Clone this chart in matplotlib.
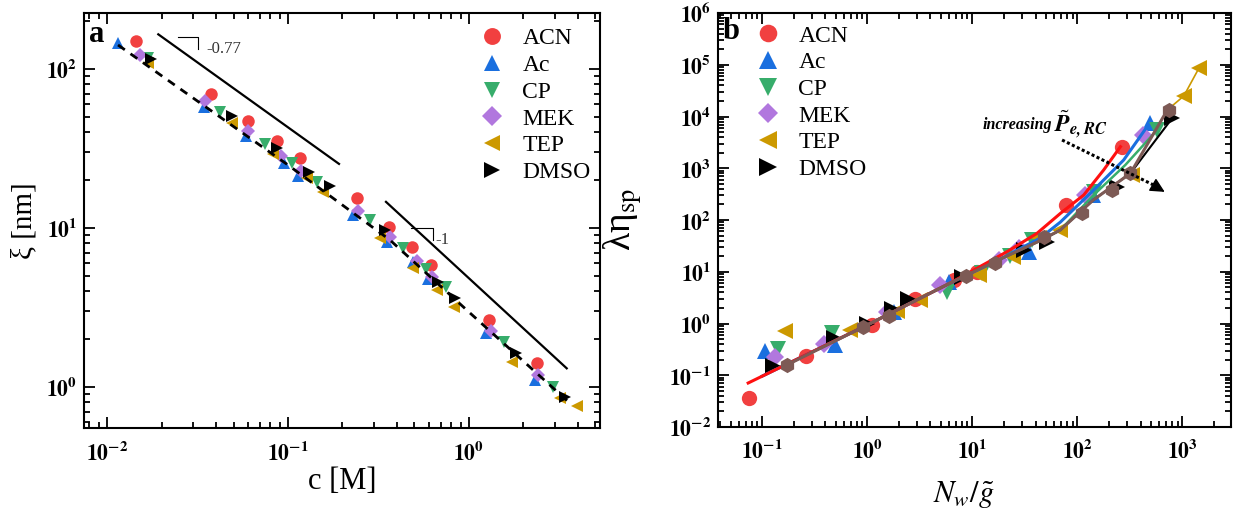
import numpy as np
import matplotlib
matplotlib.use('Agg')
import matplotlib.pyplot as plt
from matplotlib.ticker import LogLocator, FuncFormatter, NullFormatter

plt.rcParams['font.family'] = ['Liberation Serif', 'DejaVu Serif']
plt.rcParams['mathtext.fontset'] = 'stix'

solvents = ['ACN', 'Ac', 'CP', 'MEK', 'TEP', 'DMSO']
colors = ['#f14040', '#1a6fdf', '#37ad6b', '#b177de', '#cc9900', '#000000']
markers = ['o', '^', 'v', 'D', '<', '>']

# ---- panel a : correlation length vs concentration
c_acn = [0.0144, 0.0374, 0.0604, 0.0866, 0.1165, 0.240, 0.363, 0.482, 0.614, 1.29, 2.37]
xi_acn = [151, 69.7, 47.3, 35.4, 27.7, 15.4, 10.2, 7.56, 5.85, 2.64, 1.41]
c_ac = [0.0115, 0.0343, 0.0584, 0.0950, 0.114, 0.228, 0.354, 0.492, 0.591, 1.24, 2.32]
xi_ac = [145, 57.9, 37.9, 25.5, 21.3, 12.1, 8.20, 6.14, 4.75, 2.18, 1.11]
c_cp = [0.0168, 0.0421, 0.0746, 0.1056, 0.1452, 0.284, 0.434, 0.579, 0.743, 1.56, 2.92]
xi_cp = [117, 53.8, 33.7, 25.8, 19.5, 11.3, 7.45, 5.50, 4.27, 1.93, 1.00]
c_mek = [0.0152, 0.0348, 0.0604, 0.0915, 0.1175, 0.245, 0.366, 0.514, 0.622, 1.32, 2.42]
xi_mek = [122, 63.0, 40.9, 28.5, 22.8, 12.7, 8.82, 6.23, 4.94, 2.25, 1.19]
c_tep = [0.0169, 0.0489, 0.0823, 0.128, 0.157, 0.322, 0.489, 0.663, 0.826, 1.72, 3.18, 3.94]
xi_tep = [109, 45.6, 29.2, 20.5, 16.9, 8.61, 5.58, 4.07, 3.20, 1.44, 0.85, 0.76]
c_dmso = [0.0174, 0.0489, 0.0866, 0.131, 0.171, 0.343, 0.676, 0.837, 1.82, 3.39]
xi_dmso = [115, 50.6, 31.7, 22.4, 18.4, 9.71, 4.59, 3.62, 1.64, 0.86]

c_fit = [0.0115, 0.1, 0.366, 1.0, 3.71]
xi_fit = [141.6, 24.9, 8.40, 2.96, 0.77]

# guide lines for the scaling exponents
guide1_c = [0.0192, 0.1914]
guide1_xi = [165.2, 25.3]
guide2_c = [0.348, 3.47]
guide2_xi = [14.6, 1.31]

# ---- panel b : specific viscosity vs Nw/g
nx_acn = [0.0752, 0.2625, 1.11, 2.87, 6.64, 11.1, 78.6, 266]
ny_acn = [0.0359, 0.235, 0.935, 2.93, 6.93, 10.0, 195, 2610]
nx_ac = [0.107, 0.496, 1.78, 5.95, 34.4, 140, 496]
ny_ac = [0.298, 0.385, 1.69, 6.43, 24.4, 300, 7380]
nx_cp = [0.140, 0.461, 5.74, 12.4, 23.0, 37.0, 143, 574]
ny_cp = [0.317, 0.647, 4.11, 9.33, 20.1, 41.1, 352, 5480]
nx_mek = [0.133, 0.389, 1.54, 4.96, 17.8, 27.6, 119, 426]
ny_mek = [0.228, 0.396, 1.69, 5.55, 16.9, 28.4, 304, 4400]
nx_tep = [0.1656, 0.689, 1.92, 3.15, 11.5, 24.4, 42.8, 68.9, 332, 1031, 1432]
ny_tep = [0.726, 0.748, 1.77, 2.84, 8.65, 19.5, 44.3, 64.1, 741, 24900, 85100]
nx_dmso = [0.128, 0.478, 1.0, 1.74, 2.47, 7.98, 30.8, 51.4, 239, 798]
ny_dmso = [0.153, 0.517, 1.0, 1.88, 2.93, 7.82, 26.3, 38.1, 441, 9230]
nx_hex = [0.172, 0.910, 1.596, 8.77, 16.6, 47.9, 111, 214, 320, 741]
ny_hex = [0.158, 0.867, 1.40, 8.28, 15.0, 47.5, 135, 380, 798, 13400]

# fitted curves
fx_red = [0.0736, 1.0, 6.17, 21.4, 41.3, 68.9, 115, 178, 257]
fy_red = [0.0708, 0.935, 6.06, 24.4, 55.3, 134, 304, 925, 2610]
fx_blue = [0.1, 1.0, 6.17, 18.5, 44.4, 68.9, 143, 276, 461]
fy_blue = [0.096, 0.935, 6.06, 17.6, 44.9, 91, 380, 1443, 6350]
fx_green = [0.1, 1.0, 6.17, 18.5, 44.4, 68.9, 142, 286, 574]
fy_green = [0.096, 0.935, 6.06, 17.6, 40.0, 64.1, 300, 1156, 5480]
fx_black = [0.1, 1.0, 6.17, 18.5, 44.4, 68.9, 142, 320, 798]
fy_black = [0.096, 0.935, 6.06, 17.6, 40.0, 64.1, 244, 798, 9230]
fx_brown = [0.172, 1.0, 6.17, 18.5, 44.4, 68.9, 142, 320, 719]
fy_brown = [0.158, 0.935, 6.06, 17.6, 40.0, 64.1, 244, 798, 13400]
fx_gold = [719, 1031, 1432]
fy_gold = [13400, 24900, 85100]

data_a = [(c_acn, xi_acn), (c_ac, xi_ac), (c_cp, xi_cp), (c_mek, xi_mek),
          (c_tep, xi_tep), (c_dmso, xi_dmso)]
data_b = [(nx_acn, ny_acn), (nx_ac, ny_ac), (nx_cp, ny_cp), (nx_mek, ny_mek),
          (nx_tep, ny_tep), (nx_dmso, ny_dmso)]


def pow10(v, pos):
    e = int(round(np.log10(v)))
    return r'$\mathbf{10^{%d}}$' % e


def style_log_axes(ax):
    for a in (ax.xaxis, ax.yaxis):
        a.set_major_locator(LogLocator(base=10, numticks=20))
        a.set_minor_locator(LogLocator(base=10, subs=np.arange(2, 10), numticks=20))
        a.set_major_formatter(FuncFormatter(pow10))
        a.set_minor_formatter(NullFormatter())
    ax.tick_params(which='both', direction='in', top=True, right=True, width=1.3)
    ax.tick_params(which='major', length=8, labelsize=15.5)
    ax.tick_params(which='minor', length=4)
    ax.tick_params(axis='x', pad=9)
    ax.tick_params(axis='y', pad=5)
    for s in ax.spines.values():
        s.set_linewidth(1.5)


fig = plt.figure(figsize=(12.39, 5.12), dpi=100)
ax1 = fig.add_axes([84 / 1239, 1 - 428 / 512, (600 - 84) / 1239, (428 - 13) / 512])
ax2 = fig.add_axes([718 / 1239, 1 - 427 / 512, (1231 - 718) / 1239, (427 - 13) / 512])

# panel a
for (x, y), lab, col, m in zip(data_a, solvents, colors, markers):
    ax1.plot(x, y, linestyle='none', marker=m, color=col, markersize=9 if m != 'D' else 7.5,
             markeredgewidth=0, label=lab, zorder=2)
ax1.plot(c_fit, xi_fit, 'k--', lw=2, dashes=(3, 2.5), zorder=3)
ax1.plot(guide1_c, guide1_xi, 'k-', lw=1.6)
ax1.plot(guide2_c, guide2_xi, 'k-', lw=1.6)
# slope markers
ax1.plot([0.0247, 0.0318, 0.0318], [158, 158, 134], 'k-', lw=0.8)
ax1.text(0.0352, 134, '-0.77', fontsize=12, va='center', color='#333333')
ax1.plot([0.478, 0.630, 0.630], [10.03, 10.03, 8.35], 'k-', lw=0.8)
ax1.text(0.655, 8.4, '-1', fontsize=12, va='center', color='#333333')

ax1.set_xscale('log')
ax1.set_yscale('log')
ax1.set_xlim(0.00746, 5.3)
ax1.set_ylim(0.552, 225)
style_log_axes(ax1)
ax1.set_xlabel('c [M]', fontsize=22)
ax1.xaxis.set_label_coords(0.5, -0.093)
ax1.set_ylabel('ξ [nm]', fontsize=21)
ax1.yaxis.set_label_coords(-0.09, 0.5)
ax1.text(0.01, 0.947, 'a', transform=ax1.transAxes, fontsize=22, fontweight='bold',
         va='center', ha='left')
ax1.legend(loc='upper left', bbox_to_anchor=(0.767, 0.964), frameon=False, fontsize=17,
           handlelength=1.0, handletextpad=0.8, labelspacing=0.22, borderpad=0,
           borderaxespad=0, markerscale=1.35)

# panel b
for (x, y), lab, col, m in zip(data_b, solvents, colors, markers):
    ax2.plot(x, y, linestyle='none', marker=m, color=col, markersize=11 if m != 'D' else 9,
             markeredgewidth=0, label=lab, zorder=2)
ax2.plot(nx_hex, ny_hex, linestyle='none', marker='h', color='#7d5a55', markersize=11,
         markeredgewidth=0, zorder=4)
ax2.plot(fx_green, fy_green, color='#37ad6b', lw=1.8, zorder=3)
ax2.plot(fx_black, fy_black, color='#000000', lw=1.5, zorder=3)
ax2.plot(fx_blue, fy_blue, color='#1a6fdf', lw=2.2, zorder=3)
ax2.plot(fx_red, fy_red, color='#ff1010', lw=2.2, zorder=3)
ax2.plot(fx_brown, fy_brown, color='#7d5a55', lw=2.2, zorder=3)
ax2.plot(fx_gold, fy_gold, color='#cc9900', lw=1.2, zorder=3)

# "increasing" arrow
ax2.plot([71.5, 560], [3515, 450], color='k', lw=2.2, linestyle=(0, (1, 0.8)), zorder=5)
ax2.annotate('', xy=(715, 328), xytext=(520, 480),
             arrowprops=dict(arrowstyle='-|>', color='k', lw=1, mutation_scale=22), zorder=5)
ax2.text(12.4, 6860, 'increasing', fontsize=11.5,
         fontweight='bold', style='italic', va='center', ha='left')
ax2.text(60, 6860, r'$\tilde{\mathbfit{P}}_{\mathbfit{e,RC}}$', fontsize=17,
         va='center', ha='left')

ax2.set_xscale('log')
ax2.set_yscale('log')
ax2.set_xlim(0.038, 2900)
ax2.set_ylim(1e-2, 1e6)
style_log_axes(ax2)
ax2.set_xlabel(r'$N_w/\tilde{g}$', fontsize=22)
ax2.xaxis.set_label_coords(0.48, -0.125)
ax2.set_ylabel(r'λη$_{\mathrm{sp}}$', fontsize=27)
ax2.yaxis.set_label_coords(-0.145, 0.5)
ax2.text(0.008, 0.955, 'b', transform=ax2.transAxes, fontsize=22, fontweight='bold',
         va='center', ha='left')
ax2.legend(loc='upper left', bbox_to_anchor=(0.074, 0.971), frameon=False, fontsize=17,
           handlelength=1.0, handletextpad=0.8, labelspacing=0.22, borderpad=0,
           borderaxespad=0, markerscale=1.15)

fig.savefig('out.png', dpi=100)
